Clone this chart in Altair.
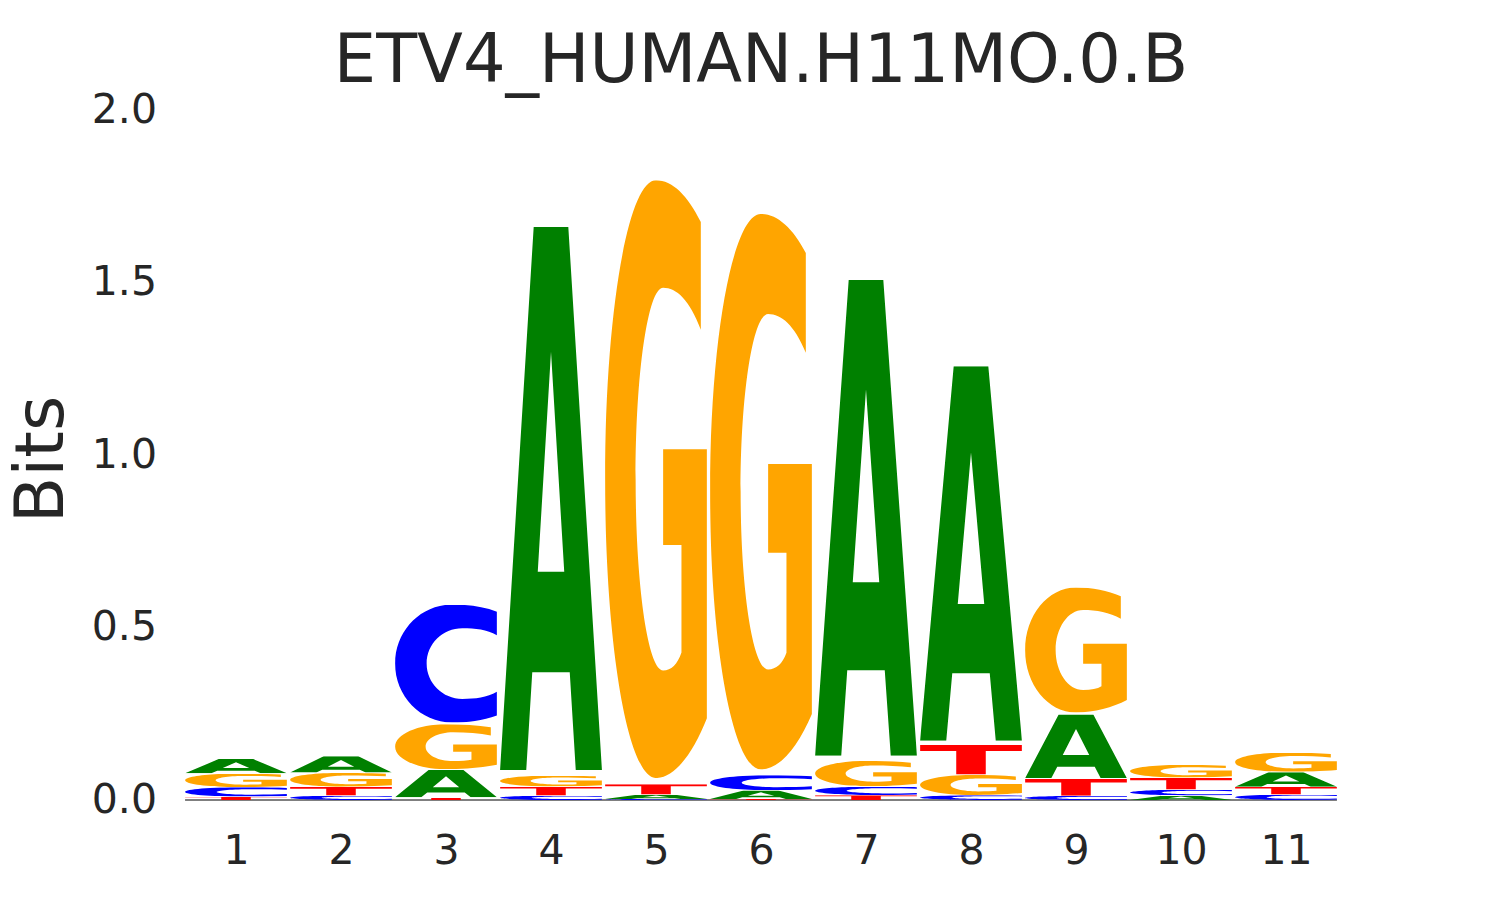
import altair as alt
import pandas as pd
from urllib.parse import quote

# ---------------- data ----------------
positions = list(range(1, 12))
bits_A = [0.042, 0.048, 0.081, 1.606, 0.013, 0.025, 1.407, 1.107, 0.189, 0.013, 0.043]
bits_C = [0.027, 0.013, 0.349, 0.013, 0.003, 0.044, 0.025, 0.014, 0.012, 0.017, 0.016]
bits_G = [0.040, 0.041, 0.133, 0.032, 1.768, 1.643, 0.075, 0.059, 0.370, 0.037, 0.057]
bits_T = [0.010, 0.025, 0.007, 0.026, 0.030, 0.003, 0.014, 0.088, 0.049, 0.035, 0.022]
y_ticks = [0.0, 0.5, 1.0, 1.5, 2.0]
title_text = "ETV4_HUMAN.H11MO.0.B"
y_title = "Bits"

# ---------------- glyph styles (letter shapes in a 0..100 box) ----------------
colors = {"A": "#008000", "C": "#0000ff", "G": "#ffa500", "T": "#ff0000"}
glyph_paths = {
    "A": "M0 100 L33 0 L67 0 L100 100 L74.3 100 L68.4 82 L31.6 82 L25.7 100 Z "
         "M50 23 L37 63.5 L63 63.5 Z",
    "C": "M100 6 C86 1.5 71 0 56 0 C25 0 0 22.4 0 50 C0 77.6 25 100 56 100 "
         "C71 100 86 98.5 100 94 L100 74 C90 79 79 80 66 80 "
         "C46.7 80 31 66.6 31 50 C31 33.4 46.7 20 66 20 C79 20 90 21 100 26 Z",
    "G": "M100 45 L100 90 C86 96 68 100 50 100 C22.4 100 0 77.6 0 50 "
         "C0 22.4 22.4 0 50 0 C66 0 81 2.5 94 7 L94 25 C83 20 70 18 57 18 "
         "C42.1 18 30 32.3 30 50 C30 67.7 42.1 82 57 82 C65 82 71 81 75 79 "
         "L75 61 L57 61 L57 45 Z",
    "T": "M0 0 L100 0 L100 21 L64.5 21 L64.5 100 L35.5 100 L35.5 21 L0 21 Z",
}


def glyph_url(letter):
    svg = (
        "<svg xmlns='http://www.w3.org/2000/svg' width='100' height='100' "
        "viewBox='0 0 100 100' preserveAspectRatio='none'>"
        f"<path d='{glyph_paths[letter]}' fill='{colors[letter]}' fill-rule='evenodd'/></svg>"
    )
    return "data:image/svg+xml;charset=utf-8," + quote(svg, safe="")


rows = []
for letter, vals in zip(["A", "C", "G", "T"], [bits_A, bits_C, bits_G, bits_T]):
    for p, h in zip(positions, vals):
        rows.append({"pos": p, "letter": letter, "h": h, "url": glyph_url(letter)})
df = pd.DataFrame(rows)

base_df = pd.DataFrame({"x0": [min(positions) - 0.485], "x1": [max(positions) + 0.485], "y": [0.0]})
title_df = pd.DataFrame({"t": [title_text]})

# ---------------- scales / axes ----------------
FONT = "DejaVu Sans"
TXT = "#262626"
W, H = 1155, 690
xscale = alt.Scale(domain=[0.5, 11.5], nice=False, zero=False)
yscale = alt.Scale(domain=[0, 2], nice=False, zero=True)
xaxis = alt.Axis(values=positions, format="d", title=None, domain=False, ticks=False,
                 tickSize=0, grid=False, labelFontSize=41, labelFont=FONT,
                 labelColor=TXT, labelPadding=31, labelAngle=0, labelFlush=False,
                 labelOverlap=False)
yaxis = alt.Axis(values=y_ticks, format=".1f", title=y_title, domain=False, ticks=False,
                 tickSize=0, grid=False, labelFontSize=41, labelFont=FONT,
                 labelColor=TXT, labelPadding=27, labelFlush=False, labelOverlap=False,
                 titleFontSize=68, titleFont=FONT, titleFontWeight="normal",
                 titleColor=TXT, titleAngle=270, titleX=-121, titleY=349,
                 titleAlign="center", titleBaseline="alphabetic")

rule = alt.Chart(base_df).mark_rule(color="black", strokeWidth=1).encode(
    x=alt.X("x0:Q", scale=xscale, axis=xaxis),
    x2="x1:Q",
    y=alt.Y("y:Q", scale=yscale, axis=yaxis),
)

logo = alt.Chart(df).transform_stack(
    stack="h", groupby=["pos"], as_=["y0", "y1"],
    sort=[alt.SortField("h", order="ascending")],
).transform_calculate(
    xl="datum.pos - 0.485",
    xr="datum.pos + 0.485",
    yl="datum.y0 + 0.01 * datum.h",
    yh="datum.y1 - 0.01 * datum.h",
).mark_image(aspect=False).encode(
    x=alt.X("xl:Q", scale=xscale, axis=xaxis),
    x2="xr:Q",
    y=alt.Y("yl:Q", scale=yscale, axis=yaxis),
    y2="yh:Q",
    url=alt.Url("url:N"),
)

title = alt.Chart(title_df).mark_text(
    font=FONT, fontSize=67, color=TXT, align="center", baseline="alphabetic"
).encode(
    text="t:N",
    x=alt.value(W / 2),
    y=alt.value(-28),
)

chart = alt.layer(rule, logo, title).properties(
    width=W,
    height=H,
    autosize=alt.AutoSizeParams(type="none"),
    padding={"left": 175.5, "top": 102, "right": 138.5, "bottom": 92},
).configure_view(strokeWidth=0, stroke=None)

chart.save("out.html", embed_options={"renderer": "svg", "actions": False})
